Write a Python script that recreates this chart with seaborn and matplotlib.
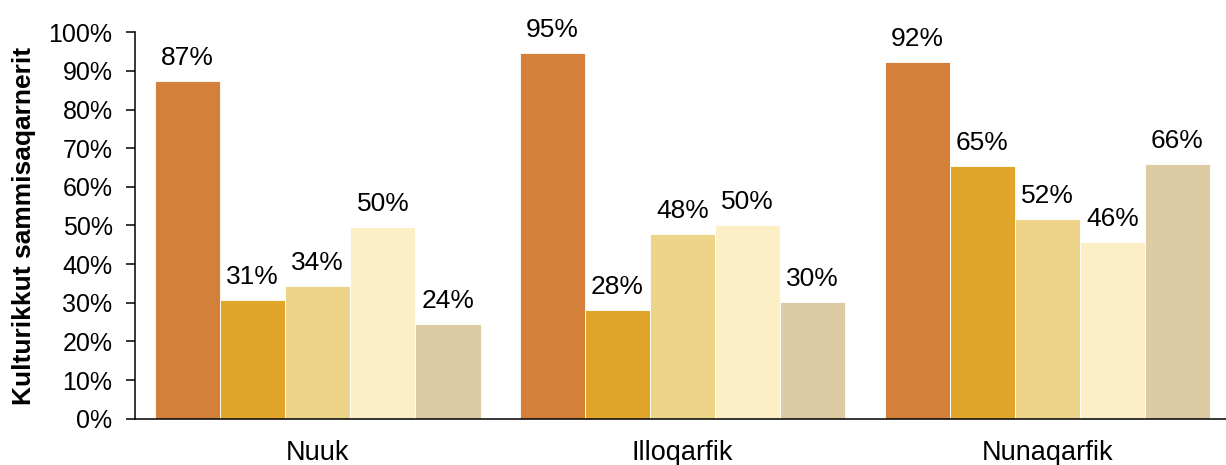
import pandas as pd
import numpy as np
import seaborn as sns
import matplotlib.pyplot as plt
from matplotlib.ticker import PercentFormatter

places = ['Nuuk', 'Illoqarfik', 'Nunaqarfik']
series = ['s1', 's2', 's3', 's4', 's5']
nuuk = [87.4, 30.8, 34.3, 49.6, 24.4]
illoqarfik = [94.7, 28.0, 47.7, 50.0, 30.2]
nunaqarfik = [92.4, 65.3, 51.6, 45.6, 65.9]
colors = ['#D3813A', '#E0A52A', '#EED488', '#FCEFC5', '#DDCBA4']

rows = []
for place, vals in zip(places, [nuuk, illoqarfik, nunaqarfik]):
    for s, v in zip(series, vals):
        rows.append({'place': place, 'series': s, 'value': v})
df = pd.DataFrame(rows)

sns.set_style('white')
plt.rcParams['font.family'] = ['Liberation Sans', 'DejaVu Sans']
for key in ['text.color', 'axes.labelcolor', 'xtick.color', 'ytick.color']:
    plt.rcParams[key] = 'black'

fig = plt.figure(figsize=(12.26, 4.65), dpi=100)
ax = fig.add_axes([0.1105, 0.0996, 0.8895, 0.831])

sns.barplot(data=df, x='place', y='value', hue='series', order=places,
            hue_order=series, palette=colors, width=0.892, saturation=1,
            edgecolor='white', linewidth=0.6, legend=False, ax=ax)

for cont in ax.containers:
    ax.bar_label(cont, labels=[f'{round(b.get_height()):.0f}%' for b in cont],
                 padding=8, fontsize=19, color='black')

ax.set_ylim(0, 100)
ax.set_xlim(-0.5, 2.49)
ax.set_yticks(np.arange(0, 101, 10))
ax.yaxis.set_major_formatter(PercentFormatter(100, decimals=0))
ax.tick_params(axis='y', labelsize=18, length=6.5, width=1.1, color='black', left=True, pad=10)
ax.tick_params(axis='x', labelsize=19.5, length=0, pad=15)
ax.set_xlabel('')
ax.set_ylabel('Kulturikkut sammisaqarnerit', fontsize=19, fontweight='bold', labelpad=9)
for side in ['top', 'right']:
    ax.spines[side].set_visible(False)
for side in ['left', 'bottom']:
    ax.spines[side].set_color('black')
    ax.spines[side].set_linewidth(1.1)

fig.savefig('out.png', dpi=100)
